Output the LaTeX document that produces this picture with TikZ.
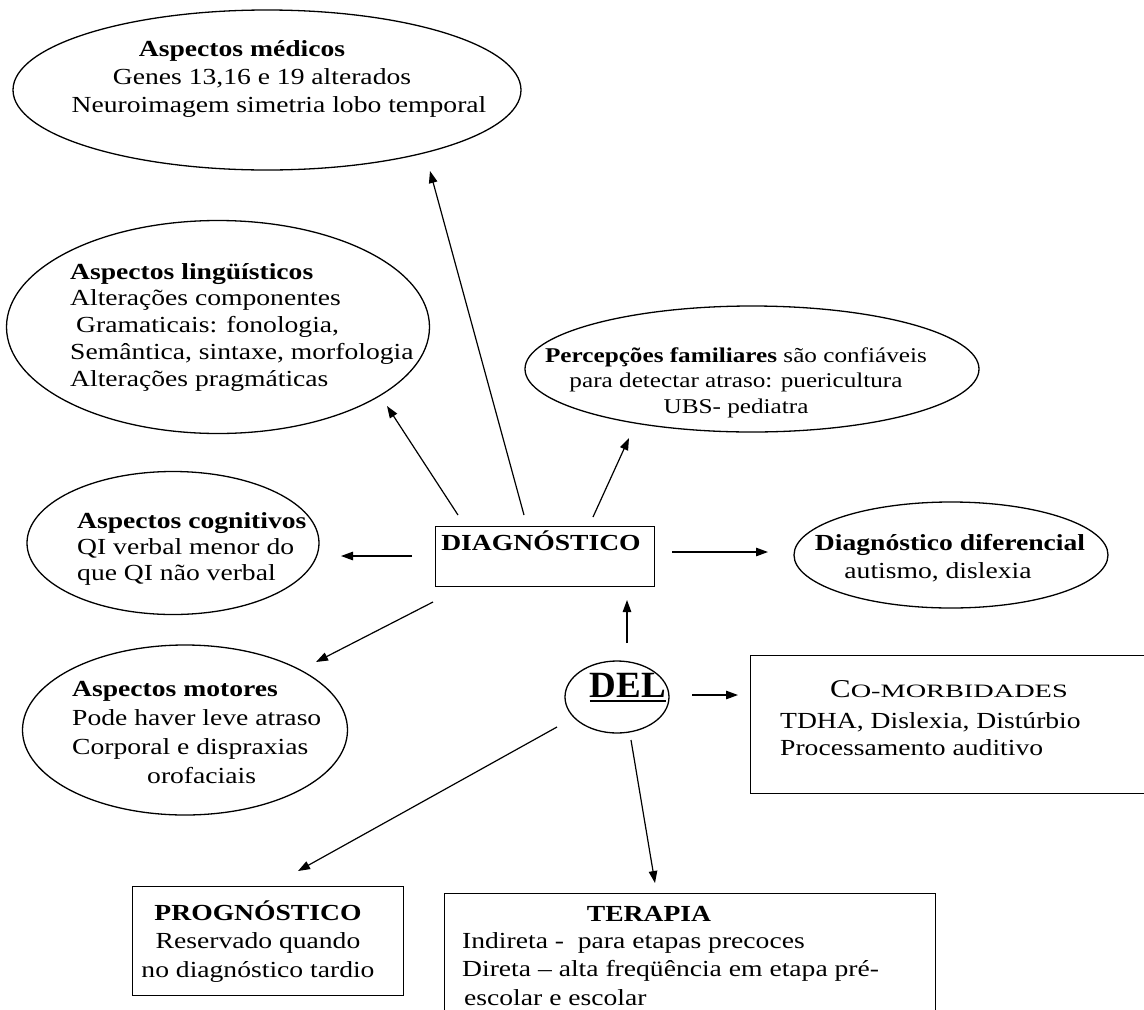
\documentclass[tikz,border=0pt]{standalone}
\usepackage{fontspec}
\setmainfont{Liberation Serif}[FakeStretch=1.2]
\newfontfamily\delfont{Liberation Serif}
\usetikzlibrary{shapes.geometric,arrows.meta}
\begin{document}
\begin{tikzpicture}[x=1pt,y=-1pt,
  oval/.style={ellipse, draw=black, line width=1.3pt, inner sep=0pt},
  boxnode/.style={rectangle, draw=black, line width=1.4pt, inner sep=0pt, anchor=north west},
  txt/.style={inner sep=0pt, font=\fontsize{23}{27}\selectfont},
  arr/.style={line width=1.2pt, -{Triangle[length=12pt,width=8.5pt]}}]
\fill[white] (0,0) rectangle (1144,1010);
\useasboundingbox (0,0) rectangle (1144,1010);

% shapes
\node[oval, minimum width=508pt, minimum height=160pt] (med) at (267,90) {};
\node[oval, minimum width=423pt, minimum height=213pt] (ling) at (218,327) {};
\node[oval, minimum width=454pt, minimum height=126pt] (perc) at (752,369) {};
\node[oval, minimum width=292pt, minimum height=143pt] (cog) at (173,543) {};
\node[oval, minimum width=325pt, minimum height=170pt] (mot) at (185,730) {};
\node[oval, minimum width=314pt, minimum height=106pt] (dif) at (951,555) {};
\node[oval, minimum width=104pt, minimum height=72pt] (del) at (617,697) {};
\node[boxnode, minimum width=219pt, minimum height=60pt] (diag) at (435,526) {};
\node[boxnode, minimum width=410pt, minimum height=138pt] (comorb) at (750,655) {};
\node[boxnode, minimum width=271pt, minimum height=109pt] (prog) at (132,886) {};
\node[boxnode, minimum width=491pt, minimum height=160pt] (ter) at (444,893) {};

% texts (anchor base = baseline of the last line)
\node[txt, font=\fontsize{23}{28}\selectfont, anchor=base, align=center] (medt) at (262,112)
  {\textbf{Aspectos médicos}\hspace*{40pt}\\ Genes 13,16 e 19 alterados\\ \hspace*{34pt}Neuroimagem simetria lobo temporal};
\node[txt, font=\fontsize{23}{26.7}\selectfont, anchor=base west, align=left] (lingt) at (70,386)
  {\textbf{Aspectos lingüísticos}\\ Alterações componentes\\ \hspace*{6pt}Gramaticais: fonologia,\\ Semântica, sintaxe, morfologia\\ Alterações pragmáticas};
\node[txt, font=\fontsize{21}{25.5}\selectfont, anchor=base, align=center] (perct) at (736,413)
  {\textbf{Percepções familiares} são confiáveis\\ para detectar atraso: puericultura\\ UBS- pediatra};
\node[txt, font=\fontsize{23}{26}\selectfont, anchor=base west, align=left] (cogt) at (77,580)
  {\textbf{Aspectos cognitivos}\\ QI verbal menor do\\ que QI não verbal};
\node[txt, font=\fontsize{23}{28.7}\selectfont, anchor=base west, align=left] (mott) at (72,783)
  {\textbf{Aspectos motores}\\ Pode haver leve atraso\\ Corporal e dispraxias\\ \hspace*{75pt}orofaciais};
\node[txt, anchor=base] (diagt) at (541,550) {\textbf{DIAGNÓSTICO}};
\node[txt, font=\fontsize{23}{28}\selectfont, anchor=base, align=center] (dift) at (950,578)
  {\textbf{Diagnóstico diferencial}\\ autismo, dislexia\hspace*{24pt}};
\node[inner sep=0pt, anchor=base] (delt) at (628,697) {\delfont\bfseries\fontsize{37}{40}\selectfont DEL};
\draw[line width=2.4pt] ([yshift=-4pt]delt.base west) -- ([yshift=-4pt]delt.base east);
\node[txt, anchor=base] (comorbh) at (949,697)
  {\resizebox{!}{17pt}{C}\resizebox{217pt}{12.5pt}{O-MORBIDADES}};
\node[txt, font=\fontsize{23}{27}\selectfont, anchor=base west, align=left] (comorbt) at (780,755)
  {TDHA, Dislexia, Distúrbio\\ Processamento auditivo};
\node[txt, font=\fontsize{23}{28.5}\selectfont, anchor=base, align=center] (progt) at (258,977)
  {\textbf{PROGNÓSTICO}\\ Reservado quando\\ no diagnóstico tardio};
\node[txt, anchor=base] (terh) at (649,921) {\textbf{TERAPIA}};
\node[txt, font=\fontsize{23}{28.5}\selectfont, anchor=base west, align=left] (tert) at (462,1005)
  {Indireta -\ \ para etapas precoces\\ Direta – alta freqüência em etapa pré-\\ \hspace*{2pt}escolar e escolar};

% arrow ends
\coordinate (a1s) at (524,515); \coordinate (a1e) at (430,171);
\coordinate (a2s) at (458,515); \coordinate (a2e) at (387,406);
\coordinate (a3s) at (593,517); \coordinate (a3e) at (629,438);
\coordinate (a4s) at (412,556); \coordinate (a4e) at (341,556);
\coordinate (a5s) at (433,602); \coordinate (a5e) at (316,662);
\coordinate (a6s) at (672,552); \coordinate (a6e) at (768,552);
\coordinate (a7s) at (627,643); \coordinate (a7e) at (627,600);
\coordinate (a8s) at (692,695); \coordinate (a8e) at (738,695);
\coordinate (a9s) at (557,727); \coordinate (a9e) at (298,871);
\coordinate (a10s) at (631,740); \coordinate (a10e) at (655,883);

\draw[arr] (a1s) -- (a1e);
\draw[arr] (a2s) -- (a2e);
\draw[arr] (a3s) -- (a3e);
\draw[arr] (a4s) -- (a4e);
\draw[arr] (a5s) -- (a5e);
\draw[arr] (a6s) -- (a6e);
\draw[arr] (a7s) -- (a7e);
\draw[arr] (a8s) -- (a8e);
\draw[arr] (a9s) -- (a9e);
\draw[arr] (a10s) -- (a10e);
\end{tikzpicture}
\end{document}
